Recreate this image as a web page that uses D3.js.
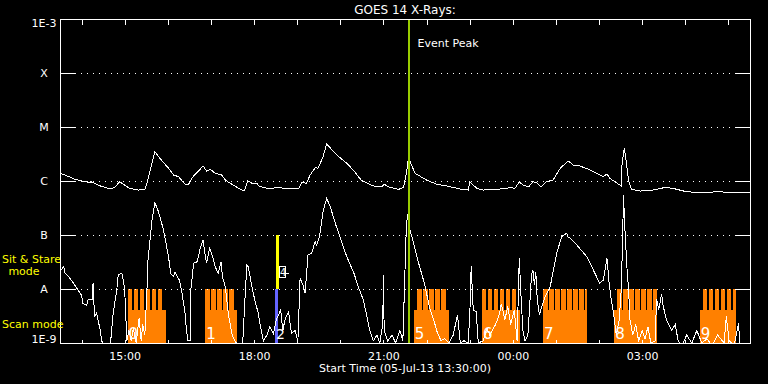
<!DOCTYPE html>
<html><head><meta charset="utf-8">
<script src="https://cdn.jsdelivr.net/npm/d3@7"></script>
<style>
body{margin:0;background:#000}
svg{display:block;background:#000}
text{font-family:"DejaVu Sans",sans-serif}
line,rect,path{shape-rendering:crispEdges}
</style>
</head><body>
<svg id="chart" width="768" height="384"></svg>
<script>
// ---------------- data ----------------
const titleText = "GOES 14 X-Rays:";
const xTitle = "Start Time (05-Jul-13 13:30:00)";
const startTime = "2013-07-05T13:30:00Z";
const endTime = "2013-07-06T05:30:00Z";

const levelValues = [1e-9, 1e-8, 1e-7, 1e-6, 1e-5, 1e-4, 1e-3];
const levelLabels = ["1E-9", "A", "B", "C", "M", "X", "1E-3"];
const gridLevels = [1e-8, 1e-7, 1e-6, 1e-5, 1e-4];
const hourLabels = ["15:00", "18:00", "21:00", "00:00", "03:00"];

// GOES long channel (1-8 A), flux in units of 1e-6 W/m^2
const longTimes = ["13:30","13:37","13:51","14:05","14:12","14:13","14:26","14:40","14:47","14:53","15:00","15:07","15:19","15:28","15:31","15:38","15:42","15:49","16:01","16:08","16:15","16:24","16:29","16:35","16:42","16:49","16:54","16:59","17:06","17:15","17:20","17:31","17:43","17:47","17:51","17:57","18:04","18:06","18:18","18:34","18:45","19:02","19:06","19:13","19:18","19:25","19:29","19:36","19:41","19:55","20:09","20:20","20:27","20:30","20:46","20:58","21:01","21:07","21:21","21:28","21:32","21:35","21:38","21:44","22:00","22:14","22:28","22:47","22:58","23:00","23:10","23:19","23:38","23:51","23:56","00:03","00:09","00:14","00:22","00:28","00:33","00:39","00:47","00:56","01:06","01:17","01:24","01:33","01:45","01:57","02:06","02:11","02:15","02:25","02:31","02:32","02:35","02:37","02:41","02:45","02:57","03:15","03:32","03:43","04:02","04:30","04:51","04:53","05:30"];
const longFlux = [1.39,1.29,1.075,0.97,0.93,0.97,0.81,0.71,0.78,0.97,0.84,0.73,0.68,0.70,0.91,2.13,3.49,2.63,1.72,1.29,1.20,0.87,0.88,1.20,1.49,1.90,1.53,1.65,1.39,1.29,1.04,0.84,0.68,0.68,1.01,0.91,0.91,0.81,0.73,0.75,0.73,0.72,0.93,0.91,1.29,1.76,1.72,2.82,4.84,3.03,2.13,1.49,1.12,1.01,0.81,0.78,0.87,0.78,0.70,0.76,1.39,2.82,2.13,1.39,1.04,0.87,0.81,0.71,0.68,0.96,0.73,0.68,0.70,0.73,0.76,0.73,0.97,0.84,0.78,0.97,0.93,0.78,0.97,1.04,1.72,2.35,1.98,1.90,1.65,1.39,1.20,1.35,1.12,0.91,0.81,2.13,4.03,2.82,1.04,0.70,0.65,0.68,0.76,0.73,0.63,0.61,0.65,0.62,0.62];

// GOES short channel (0.5-4 A), flux in units of 1e-8 W/m^2
const shortTimes = ["13:30","13:35","13:37","13:42","13:49","13:55","14:00","14:02","14:07","14:09","14:15","14:16","14:18","14:21","14:26","14:28","14:33","14:40","14:44","14:49","14:51","14:56","14:58","15:00","15:03","15:06","15:09","15:12","15:16","15:20","15:23","15:25","15:28","15:31","15:32","15:38","15:42","15:47","15:54","16:01","16:04","16:08","16:10","16:13","16:16","16:19","16:24","16:26","16:28","16:31","16:32","16:36","16:41","16:45","16:49","16:52","16:54","16:58","17:01","17:06","17:10","17:14","17:16","17:20","17:24","17:29","17:33","17:38","17:44","17:48","17:50","17:52","17:57","18:02","18:06","18:08","18:13","18:18","18:22","18:27","18:31","18:37","18:40","18:43","18:48","18:52","18:57","19:01","19:04","19:08","19:11","19:15","19:20","19:25","19:27","19:31","19:36","19:41","19:46","19:53","20:00","20:09","20:19","20:25","20:32","20:36","20:41","20:46","20:51","20:55","20:59","21:00","21:01","21:06","21:12","21:17","21:23","21:27","21:30","21:32","21:35","21:37","21:42","21:49","21:57","22:00","22:05","22:10","22:14","22:20","22:25","22:31","22:37","22:43","22:47","22:52","22:58","23:01","23:02","23:05","23:09","23:12","23:19","23:24","23:28","23:36","23:41","23:44","23:49","23:53","23:57","00:02","00:06","00:09","00:11","00:14","00:17","00:21","00:26","00:28","00:30","00:32","00:34","00:37","00:39","00:45","00:52","01:01","01:08","01:13","01:15","01:17","01:20","01:29","01:43","01:52","02:01","02:06","02:11","02:14","02:17","02:20","02:24","02:28","02:31","02:33","02:34","02:36","02:39","02:41","02:43","02:47","02:51","02:55","03:00","03:04","03:08","03:12","03:18","03:20","03:23","03:27","03:29","03:34","03:41","03:46","03:50","03:55","04:02","04:09","04:16","04:23","04:30","04:37","04:45","04:54","04:57","05:01","05:08","05:14","05:16","05:23","05:30"];
const shortFlux = [2.1,2.6,2.0,1.69,1.27,0.96,0.77,0.54,0.50,0.63,0.63,1.29,0.31,0.36,0.17,0.11,0.08,0.09,0.36,0.96,1.82,1.95,1.47,0.96,0.11,0.17,0.11,0.19,0.10,0.29,0.11,0.22,0.14,0.96,3.0,18.9,39.6,27.0,12.4,3.96,1.95,1.69,2.09,1.69,1.47,0.96,0.36,0.17,0.11,0.11,0.96,3.0,3.2,5.66,8.09,4.27,3.0,5.66,4.58,2.59,1.95,3.2,1.69,1.10,0.36,0.15,0.11,0.09,0.09,0.96,2.78,2.59,1.10,0.54,0.36,0.23,0.11,0.14,0.20,0.15,0.27,0.41,0.17,0.27,0.38,0.15,0.17,0.11,1.58,1.19,0.83,4.27,4.58,7.52,6.53,9.29,27.0,47.8,33.4,16.5,8.71,3.96,1.95,1.10,0.63,0.36,0.17,0.11,0.14,0.10,0.22,1.82,0.17,0.11,0.14,0.10,0.17,0.11,2.25,16.5,29.0,12.4,7.0,3.0,1.27,0.83,0.41,0.27,0.17,0.11,0.12,0.10,0.14,0.33,0.10,0.11,0.10,0.63,2.67,0.41,0.38,0.10,0.11,0.19,0.14,0.22,0.33,0.53,0.27,0.48,0.22,0.41,0.11,3.70,0.96,0.17,0.11,0.14,1.82,2.25,1.19,2.06,0.63,0.33,0.41,0.72,1.10,4.58,9.29,10.4,10.7,9.15,8.71,6.53,3.96,2.25,1.27,1.47,3.70,1.27,0.63,0.36,0.14,0.27,1.03,12.4,55,12.4,2.25,1.03,0.27,0.14,0.22,0.11,0.17,0.12,0.20,0.10,0.11,0.65,0.41,0.81,0.50,0.26,0.17,0.22,0.11,0.09,0.14,0.10,0.17,0.10,0.12,0.09,0.14,0.10,0.31,0.11,0.09,0.23,0.10,0.09,0.09];

// observation blocks (scan mode rasters)
const scanLabels = ["0","1","5","6","7","8","9"];
const scanStart  = ["15:04","16:52","21:42","23:17","00:42","02:21","04:20"];
const scanEnd    = ["15:57","17:36","22:31","00:10","01:43","03:20","05:11"];
const scanFirst  = ["15:04","16:52","21:47","23:17","00:42","02:25","04:24"];
const scanCount  = [6,5,5,6,8,7,6];
const scanCycleMin = 8.35;     // minutes between raster steps
const scanStepMin = 6.3;       // duration of a raster step
const scanBaseFlux = 4.1e-9;   // level of the continuous scan bar
const scanTopFlux = 1e-8;      // top of raster steps

// sit & stare / scan marker
const stareStart = "18:31", stareEnd = "18:34";
const scanMarkStart = "18:29", scanMarkEnd = "18:33";
const eventPeak = "21:35";

// ---------------- chart ----------------
const W = 768, H = 384;
const M = {left: 60, right: 18, top: 19, bottom: 41};
const svg = d3.select("#chart");

const t0 = new Date(startTime), t1 = new Date(endTime);
function parseT(s) {
  const [h, m] = s.split(":").map(Number);
  const day = h < 13 ? 6 : 5;
  return new Date(Date.UTC(2013, 6, day, h, m));
}
function addMin(d, m) { return new Date(d.getTime() + m * 60000); }

const x = d3.scaleUtc().domain([t0, t1]).range([M.left, W - M.right]);
const y = d3.scaleLog().domain([1e-9, 1e-3]).range([H - M.bottom, M.top]);
const X0 = x.range()[0], X1 = x.range()[1], Y0 = y.range()[0], Y1 = y.range()[1];

svg.append("defs").append("clipPath").attr("id", "plotclip")
  .append("rect").attr("x", X0).attr("y", Y1).attr("width", X1 - X0).attr("height", Y0 - Y1);

const orange = "#ff8000";
// scan blocks
const gScan = svg.append("g").attr("clip-path", "url(#plotclip)");
scanStart.forEach((s, i) => {
  const a = parseT(s), b = parseT(scanEnd[i]);
  gScan.append("rect").attr("x", x(a)).attr("width", x(b) - x(a))
    .attr("y", y(scanBaseFlux)).attr("height", y(1e-9) - y(scanBaseFlux)).attr("fill", orange);
  const f = parseT(scanFirst[i]);
  for (let k = 0; k < scanCount[i]; k++) {
    const ts = addMin(f, k * scanCycleMin);
    let te = addMin(ts, scanStepMin);
    if (te > b) te = b;
    gScan.append("rect").attr("x", x(ts)).attr("width", Math.max(0, x(te) - x(ts)))
      .attr("y", y(scanTopFlux)).attr("height", y(1e-9) - y(scanTopFlux)).attr("fill", orange);
  }
});

// sit & stare / scan markers
gScan.append("rect").attr("x", x(parseT(scanMarkStart))).attr("width", x(parseT(scanMarkEnd)) - x(parseT(scanMarkStart)))
  .attr("y", y(1e-8)).attr("height", y(1e-9) - y(1e-8)).attr("fill", "#6464ff");
gScan.append("rect").attr("x", x(parseT(stareStart))).attr("width", x(parseT(stareEnd)) - x(parseT(stareStart)))
  .attr("y", y(1e-7)).attr("height", y(1e-8) - y(1e-7)).attr("fill", "#ffff00");

// gridlines (dotted)
gridLevels.forEach(v => {
  const yy = Math.round(y(v)) + 0.5;
  svg.append("line").attr("x1", X0 + 15).attr("x2", X1 - 14).attr("y1", yy).attr("y2", yy)
    .attr("stroke", "#fff").attr("stroke-width", 1).attr("stroke-dasharray", "1,5");
  svg.append("line").attr("x1", X0).attr("x2", X0 + 15).attr("y1", yy).attr("y2", yy).attr("stroke", "#fff");
  svg.append("line").attr("x1", X1 - 14).attr("x2", X1).attr("y1", yy).attr("y2", yy).attr("stroke", "#fff");
});

// curves
const line = d3.line().x(d => x(d[0])).y(d => y(d[1]));
const longData = longTimes.map((t, i) => [parseT(t), longFlux[i] * 1e-6]);
const shortData = shortTimes.map((t, i) => [parseT(t), shortFlux[i] * 1e-8]);
const gCurves = svg.append("g").attr("clip-path", "url(#plotclip)");
gCurves.append("path").attr("d", line(longData)).attr("fill", "none").attr("stroke", "#fff").attr("stroke-width", 1);
gCurves.append("path").attr("d", line(shortData)).attr("fill", "none").attr("stroke", "#fff").attr("stroke-width", 1);

// event peak line
const xe = x(parseT(eventPeak));
svg.append("line").attr("x1", xe).attr("x2", xe).attr("y1", Y1).attr("y2", Y0)
  .attr("stroke", "#99cc00").attr("stroke-width", 2);
svg.append("text").attr("x", xe + 9).attr("y", 47).attr("fill", "#fff")
  .attr("font-size", 11).text("Event Peak");

// block labels
scanStart.forEach((s, i) => {
  svg.append("text").attr("x", x(parseT(s)) + 1).attr("y", 338.5).attr("fill", "#fff")
    .attr("font-family", "Liberation Sans, sans-serif").attr("font-size", 15).text(scanLabels[i]);
});
svg.append("text").attr("x", x(parseT(scanMarkStart)) + 1).attr("y", 339).attr("fill", "#fff")
  .attr("font-family", "Liberation Sans, sans-serif").attr("font-size", 14).text("2");
const bx = Math.round(x(parseT(stareEnd))) + 0.5;
svg.append("rect").attr("x", bx).attr("y", 266.5).attr("width", 6).attr("height", 11)
  .attr("fill", "none").attr("stroke", "#fff").attr("stroke-width", 1);
svg.append("text").attr("x", bx + 0.5).attr("y", 276).attr("fill", "#fff")
  .attr("font-family", "Liberation Sans, sans-serif").attr("font-size", 10).text("4");
svg.append("line").attr("x1", bx + 2).attr("x2", bx + 9).attr("y1", 273.5).attr("y2", 273.5).attr("stroke", "#fff");

// frame
svg.append("rect").attr("x", X0 + 0.5).attr("y", Y1 + 0.5).attr("width", X1 - X0).attr("height", Y0 - Y1)
  .attr("fill", "none").attr("stroke", "#fff").attr("stroke-width", 1);

// x axes (hour ticks)
const fmt = d3.utcFormat("%H:%M");
const axB = d3.axisBottom(x).ticks(d3.utcHour.every(1)).tickSize(-4).tickPadding(9)
  .tickFormat(d => hourLabels.includes(fmt(d)) ? fmt(d) : "");
const gB = svg.append("g").attr("transform", `translate(0,${Y0 + 0.5})`).call(axB);
gB.select(".domain").remove();
gB.selectAll("line").attr("stroke", "#fff");
gB.selectAll("text").attr("fill", "#fff").attr("font-size", 11).attr("font-family", "Liberation Sans, sans-serif");

const axT = d3.axisTop(x).ticks(d3.utcHour.every(1)).tickSize(-5).tickFormat("");
const gT = svg.append("g").attr("transform", `translate(0,${Y1 + 0.5})`).call(axT);
gT.select(".domain").remove();
gT.selectAll("line").attr("stroke", "#fff");

// y labels
levelValues.forEach((v, i) => {
  const yy = Math.min(Math.max(y(v) + 4, Y1 + 8), Y0);
  svg.append("text").attr("x", 44).attr("y", yy).attr("text-anchor", "middle")
    .attr("fill", "#fff").attr("font-size", 11).text(levelLabels[i]);
});

// mode labels
svg.append("text").attr("x", 2).attr("y", 263).attr("fill", "#ffff00").attr("font-size", 11).text("Sit & Stare");
svg.append("text").attr("x", 24).attr("y", 275).attr("text-anchor", "middle").attr("fill", "#ffff00").attr("font-size", 11).text("mode");
svg.append("text").attr("x", 2).attr("y", 328).attr("fill", "#ffff00").attr("font-size", 11).text("Scan mode");

// titles
svg.append("text").attr("x", (X0 + X1) / 2).attr("y", 14).attr("text-anchor", "middle")
  .attr("fill", "#fff").attr("font-size", 12).text(titleText);
svg.append("text").attr("x", (X0 + X1) / 2).attr("y", 372).attr("text-anchor", "middle")
  .attr("fill", "#fff").attr("font-size", 11).attr("font-family", "Liberation Sans, sans-serif").text(xTitle);
</script>
</body></html>
